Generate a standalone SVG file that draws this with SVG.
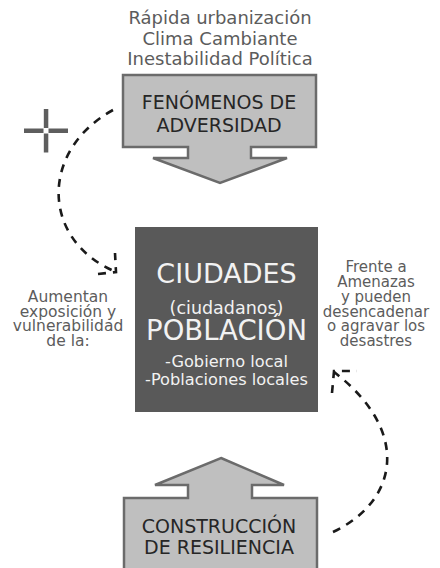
<svg xmlns="http://www.w3.org/2000/svg" width="440" height="568" viewBox="0 0 440 568">
<style>
text{font-family:"DejaVu Sans","Liberation Sans",sans-serif;text-anchor:middle}
.gray{fill:#5c5c5c}
.dark{fill:#262626}
.light{fill:#f2f2f2}
.arrowshape{fill:#bfbfbf;stroke:#6b6b6b;stroke-width:2.5;stroke-linejoin:miter}
.dash{fill:none;stroke:#1a1a1a;stroke-width:2.6;stroke-dasharray:8 7}
.cross{fill:#5e5e5e}
</style>
<rect width="440" height="568" fill="#ffffff"/>
<g id="top-labels" class="gray" font-size="18">
<text x="220" y="24">Rápida urbanización</text>
<text x="220" y="44.5">Clima Cambiante</text>
<text x="220" y="65.3">Inestabilidad Política</text>
</g>
<g id="fenomenos">
<path class="arrowshape" d="M123,75 H316 V147 H251 V158 H287 L220,183 L153,158 H188 V147 H123 Z"/>
<text class="dark" x="219" y="109.3" font-size="19">FENÓMENOS DE</text>
<text class="dark" x="219" y="131.7" font-size="19">ADVERSIDAD</text>
</g>
<g id="cross">
<rect class="cross" x="24" y="128.5" width="19.5" height="4.5"/>
<rect class="cross" x="48.5" y="128.5" width="19.5" height="4.5"/>
<rect class="cross" x="43.8" y="109" width="4.5" height="19"/>
<rect class="cross" x="43.8" y="133.5" width="4.5" height="19"/>
</g>
<g id="ciudades">
<rect x="135" y="227" width="183" height="185" fill="#595959"/>
<text class="light" x="226.5" y="283.3" font-size="27">CIUDADES</text>
<text class="light" x="226.5" y="313.5" font-size="17.5">(ciudadanos)</text>
<text class="light" x="226.5" y="340" font-size="27.5">POBLACIÓN</text>
<text class="light" x="226.5" y="366.7" font-size="16.2">-Gobierno local</text>
<text class="light" x="226.5" y="385" font-size="16.2">-Poblaciones locales</text>
</g>
<g id="left-label" class="gray" font-size="15.5">
<text x="68" y="301.7">Aumentan</text>
<text x="68" y="316.5">exposición y</text>
<text x="68" y="331">vulnerabilidad</text>
<text x="68" y="345.7">de la:</text>
</g>
<g id="right-label" class="gray" font-size="15">
<text x="376" y="271.7">Frente a</text>
<text x="376" y="286.7">Amenazas</text>
<text x="376" y="301.7">y pueden</text>
<text x="376" y="316.7">desencadenar</text>
<text x="376" y="331">o agravar los</text>
<text x="376" y="345.7">desastres</text>
</g>
<g id="resiliencia">
<path class="arrowshape" d="M221,458 L284,485 H252 V498 H317 V572 H124 V498 H188 V485 H155 Z"/>
<text class="dark" x="219" y="533" font-size="19">CONSTRUCCIÓN</text>
<text class="dark" x="219" y="554" font-size="19">DE RESILIENCIA</text>
</g>
<g id="connectors">
<path class="dash" d="M113,110 C40,150 40,240 116,272"/>
<path class="dash" d="M98,274 L116,272 L115,253" stroke-dasharray="18 4"/>
<path class="dash" d="M333,532 C400,500 410,430 334,372"/>
<path class="dash" d="M332,393 L334,371 L357,371" stroke-dasharray="22 9 6 9"/>
</g>
</svg>
